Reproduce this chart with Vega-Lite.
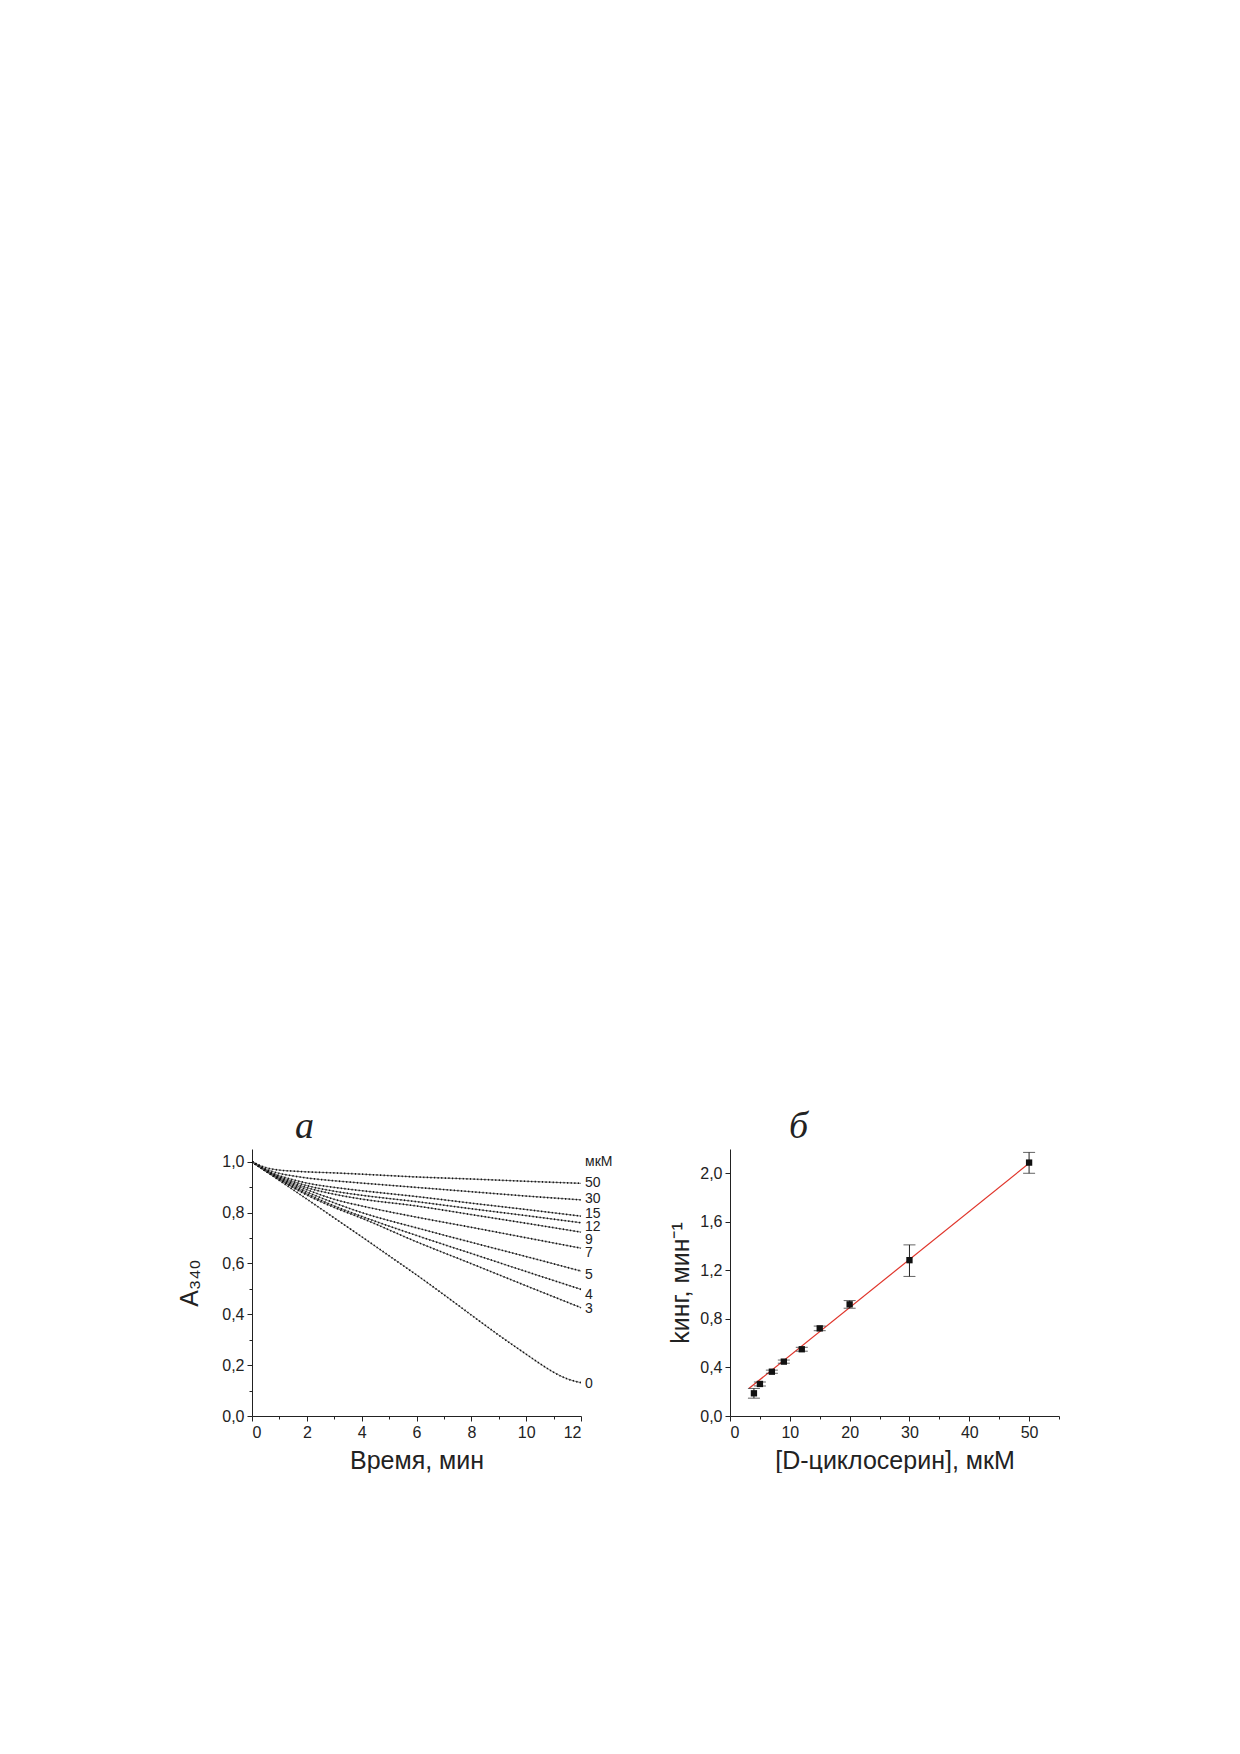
{
  "$schema": "https://vega.github.io/schema/vega-lite/v6.json",
  "background": "white",
  "padding": {"left": 177, "top": 1108, "right": 0, "bottom": 0},
  "spacing": 55,
  "config": {
    "font": "Liberation Sans",
    "view": {"stroke": null},
    "axis": {
      "grid": false,
      "domainColor": "#222",
      "tickColor": "#222",
      "labelColor": "#222",
      "titleColor": "#222",
      "labelFont": "Liberation Sans",
      "titleFont": "Liberation Sans",
      "labelFontSize": 16,
      "titleFontSize": 25,
      "titleFontWeight": "normal",
      "domainWidth": 1,
      "tickWidth": 1,
      "labelPadding": 3
    },
    "title": {"font": "Liberation Serif", "fontStyle": "italic", "fontSize": 38, "fontWeight": "normal", "color": "#222"}
  },
  "datasets": {
    "curves": [
      {"conc": "50", "t": 0, "A": 1.000}, {"conc": "50", "t": 0.5, "A": 0.977}, {"conc": "50", "t": 1, "A": 0.967}, {"conc": "50", "t": 1.5, "A": 0.963}, {"conc": "50", "t": 2, "A": 0.960}, {"conc": "50", "t": 3, "A": 0.956}, {"conc": "50", "t": 4, "A": 0.951}, {"conc": "50", "t": 6, "A": 0.940}, {"conc": "50", "t": 8, "A": 0.932}, {"conc": "50", "t": 10, "A": 0.923}, {"conc": "50", "t": 12, "A": 0.915},
      {"conc": "30", "t": 0, "A": 1.000}, {"conc": "30", "t": 0.5, "A": 0.971}, {"conc": "30", "t": 1, "A": 0.954}, {"conc": "30", "t": 1.5, "A": 0.944}, {"conc": "30", "t": 2, "A": 0.936}, {"conc": "30", "t": 3, "A": 0.925}, {"conc": "30", "t": 4, "A": 0.916}, {"conc": "30", "t": 6, "A": 0.899}, {"conc": "30", "t": 8, "A": 0.882}, {"conc": "30", "t": 10, "A": 0.865}, {"conc": "30", "t": 12, "A": 0.850},
      {"conc": "15", "t": 0, "A": 1.000}, {"conc": "15", "t": 0.5, "A": 0.967}, {"conc": "15", "t": 1, "A": 0.945}, {"conc": "15", "t": 1.5, "A": 0.929}, {"conc": "15", "t": 2, "A": 0.916}, {"conc": "15", "t": 3, "A": 0.899}, {"conc": "15", "t": 4, "A": 0.886}, {"conc": "15", "t": 6, "A": 0.863}, {"conc": "15", "t": 8, "A": 0.837}, {"conc": "15", "t": 10, "A": 0.812}, {"conc": "15", "t": 12, "A": 0.786},
      {"conc": "12", "t": 0, "A": 1.000}, {"conc": "12", "t": 0.5, "A": 0.966}, {"conc": "12", "t": 1, "A": 0.941}, {"conc": "12", "t": 1.5, "A": 0.922}, {"conc": "12", "t": 2, "A": 0.906}, {"conc": "12", "t": 3, "A": 0.884}, {"conc": "12", "t": 4, "A": 0.868}, {"conc": "12", "t": 6, "A": 0.843}, {"conc": "12", "t": 8, "A": 0.815}, {"conc": "12", "t": 10, "A": 0.788}, {"conc": "12", "t": 12, "A": 0.760},
      {"conc": "9", "t": 0, "A": 1.000}, {"conc": "9", "t": 0.5, "A": 0.965}, {"conc": "9", "t": 1, "A": 0.938}, {"conc": "9", "t": 1.5, "A": 0.916}, {"conc": "9", "t": 2, "A": 0.898}, {"conc": "9", "t": 3, "A": 0.872}, {"conc": "9", "t": 4, "A": 0.853}, {"conc": "9", "t": 6, "A": 0.826}, {"conc": "9", "t": 8, "A": 0.792}, {"conc": "9", "t": 10, "A": 0.758}, {"conc": "9", "t": 12, "A": 0.723},
      {"conc": "7", "t": 0, "A": 1.000}, {"conc": "7", "t": 0.5, "A": 0.964}, {"conc": "7", "t": 1, "A": 0.935}, {"conc": "7", "t": 1.5, "A": 0.911}, {"conc": "7", "t": 2, "A": 0.890}, {"conc": "7", "t": 3, "A": 0.852}, {"conc": "7", "t": 4, "A": 0.826}, {"conc": "7", "t": 6, "A": 0.782}, {"conc": "7", "t": 8, "A": 0.742}, {"conc": "7", "t": 10, "A": 0.701}, {"conc": "7", "t": 12, "A": 0.660},
      {"conc": "5", "t": 0, "A": 1.000}, {"conc": "5", "t": 0.5, "A": 0.964}, {"conc": "5", "t": 1, "A": 0.933}, {"conc": "5", "t": 1.5, "A": 0.906}, {"conc": "5", "t": 2, "A": 0.881}, {"conc": "5", "t": 3, "A": 0.838}, {"conc": "5", "t": 4, "A": 0.800}, {"conc": "5", "t": 6, "A": 0.740}, {"conc": "5", "t": 8, "A": 0.683}, {"conc": "5", "t": 10, "A": 0.627}, {"conc": "5", "t": 12, "A": 0.570},
      {"conc": "4", "t": 0, "A": 1.000}, {"conc": "4", "t": 0.5, "A": 0.963}, {"conc": "4", "t": 1, "A": 0.930}, {"conc": "4", "t": 1.5, "A": 0.901}, {"conc": "4", "t": 2, "A": 0.874}, {"conc": "4", "t": 3, "A": 0.826}, {"conc": "4", "t": 4, "A": 0.785}, {"conc": "4", "t": 6, "A": 0.710}, {"conc": "4", "t": 8, "A": 0.639}, {"conc": "4", "t": 10, "A": 0.568}, {"conc": "4", "t": 12, "A": 0.498},
      {"conc": "3", "t": 0, "A": 1.000}, {"conc": "3", "t": 0.5, "A": 0.963}, {"conc": "3", "t": 1, "A": 0.929}, {"conc": "3", "t": 1.5, "A": 0.898}, {"conc": "3", "t": 2, "A": 0.869}, {"conc": "3", "t": 3, "A": 0.820}, {"conc": "3", "t": 4, "A": 0.778}, {"conc": "3", "t": 6, "A": 0.685}, {"conc": "3", "t": 8, "A": 0.599}, {"conc": "3", "t": 10, "A": 0.512}, {"conc": "3", "t": 12, "A": 0.426},
      {"conc": "0", "t": 0, "A": 1.000}, {"conc": "0", "t": 1, "A": 0.926}, {"conc": "0", "t": 2, "A": 0.853}, {"conc": "0", "t": 3, "A": 0.779}, {"conc": "0", "t": 4, "A": 0.705}, {"conc": "0", "t": 5, "A": 0.630}, {"conc": "0", "t": 6, "A": 0.555}, {"conc": "0", "t": 7, "A": 0.477}, {"conc": "0", "t": 8, "A": 0.397}, {"conc": "0", "t": 9, "A": 0.318}, {"conc": "0", "t": 10, "A": 0.243}, {"conc": "0", "t": 10.5, "A": 0.206}, {"conc": "0", "t": 11, "A": 0.172}, {"conc": "0", "t": 11.5, "A": 0.146}, {"conc": "0", "t": 12, "A": 0.131}
    ],
    "labels": [
      {"label": "мкМ", "t": 12, "A": 1.0},
      {"label": "50", "t": 12, "A": 0.915},
      {"label": "30", "t": 12, "A": 0.855},
      {"label": "15", "t": 12, "A": 0.796},
      {"label": "12", "t": 12, "A": 0.743},
      {"label": "9", "t": 12, "A": 0.693},
      {"label": "7", "t": 12, "A": 0.640},
      {"label": "5", "t": 12, "A": 0.553},
      {"label": "4", "t": 12, "A": 0.475},
      {"label": "3", "t": 12, "A": 0.422},
      {"label": "0", "t": 12, "A": 0.125}
    ],
    "kin": [
      {"x": 4, "y": 0.187, "lo": 0.147, "hi": 0.227},
      {"x": 5, "y": 0.264, "lo": 0.248, "hi": 0.280},
      {"x": 7, "y": 0.365, "lo": 0.352, "hi": 0.378},
      {"x": 9, "y": 0.448, "lo": 0.435, "hi": 0.461},
      {"x": 12, "y": 0.550, "lo": 0.534, "hi": 0.566},
      {"x": 15, "y": 0.722, "lo": 0.703, "hi": 0.741},
      {"x": 20, "y": 0.920, "lo": 0.888, "hi": 0.951},
      {"x": 30, "y": 1.284, "lo": 1.150, "hi": 1.410},
      {"x": 50, "y": 2.088, "lo": 2.000, "hi": 2.172}
    ],
    "fit": [
      {"x": 3.2, "y": 0.228},
      {"x": 50, "y": 2.082}
    ]
  },
  "hconcat": [
    {
      "width": 329,
      "height": 267,
      "title": {"text": "a", "anchor": "start", "frame": "group", "dx": 43, "offset": 3},
      "encoding": {
        "x": {
          "field": "t", "type": "quantitative",
          "scale": {"domain": [0, 12], "nice": false, "zero": false},
          "axis": {
            "title": "Время, мин",
            "values": [0, 1, 2, 3, 4, 5, 6, 7, 8, 9, 10, 11, 12],
            "labelExpr": "datum.value % 2 == 0 ? datum.label : ''",
            "tickSize": {"condition": {"test": "datum.value % 2 == 0", "value": 5}, "value": 3},
            "titlePadding": 8
          }
        },
        "y": {
          "field": "A", "type": "quantitative",
          "scale": {"domain": [0, 1.05], "nice": false, "zero": false},
          "axis": {
            "title": "A₃₄₀",
            "values": [0, 0.1, 0.2, 0.3, 0.4, 0.5, 0.6, 0.7, 0.8, 0.9, 1.0],
            "labelExpr": "round(datum.value * 10) % 2 == 0 ? replace(format(datum.value, '.1f'), '.', ',') : ''",
            "tickSize": {"condition": {"test": "round(datum.value * 10) % 2 == 0", "value": 5}, "value": 3},
            "titlePadding": 19
          }
        }
      },
      "layer": [
        {
          "data": {"name": "curves"},
          "mark": {"type": "line", "color": "#555555", "strokeWidth": 0.8, "interpolate": "monotone"},
          "encoding": {"detail": {"field": "conc"}}
        },
        {
          "data": {"name": "curves"},
          "mark": {"type": "line", "color": "#111111", "strokeWidth": 1.7, "strokeDash": [1.2, 2.4], "interpolate": "monotone"},
          "encoding": {"detail": {"field": "conc"}}
        },
        {
          "data": {"name": "labels"},
          "mark": {"type": "text", "align": "left", "baseline": "middle", "dx": 4, "fontSize": 14, "color": "#222222", "font": "Liberation Sans"},
          "encoding": {"text": {"field": "label"}}
        }
      ]
    },
    {
      "width": 329,
      "height": 267,
      "title": {"text": "б", "anchor": "start", "frame": "group", "dx": 59, "offset": 3},
      "encoding": {
        "x": {
          "field": "x", "type": "quantitative",
          "scale": {"domain": [0, 55], "nice": false},
          "axis": {
            "title": "[D-циклосерин], мкМ",
            "values": [0, 5, 10, 15, 20, 25, 30, 35, 40, 45, 50, 55],
            "labelExpr": "datum.value % 10 == 0 ? datum.label : ''",
            "tickSize": {"condition": {"test": "datum.value % 10 == 0", "value": 5}, "value": 3},
            "titlePadding": 8
          }
        }
      },
      "layer": [
        {
          "data": {"name": "fit"},
          "mark": {"type": "line", "color": "#e0352b", "strokeWidth": 1.2},
          "encoding": {
            "y": {
              "field": "y", "type": "quantitative",
              "scale": {"domain": [0, 2.2], "nice": false},
              "axis": {
                "title": "kинг, мин⁻¹",
                "values": [0, 0.2, 0.4, 0.6, 0.8, 1.0, 1.2, 1.4, 1.6, 1.8, 2.0, 2.2],
                "labelExpr": "round(datum.value * 10) % 4 == 0 ? replace(format(datum.value, '.1f'), '.', ',') : ''",
                "tickSize": {"condition": {"test": "round(datum.value * 10) % 4 == 0", "value": 5}, "value": 3},
                "titlePadding": 6
              }
            }
          }
        },
        {
          "data": {"name": "kin"},
          "mark": {"type": "rule", "color": "#222222", "strokeWidth": 1},
          "encoding": {
            "y": {"field": "lo", "type": "quantitative", "title": "kинг, мин⁻¹"},
            "y2": {"field": "hi"}
          }
        },
        {
          "data": {"name": "kin"},
          "mark": {"type": "tick", "orient": "horizontal", "size": 12, "thickness": 1, "color": "#222222"},
          "encoding": {"y": {"field": "lo", "type": "quantitative", "title": "kинг, мин⁻¹"}}
        },
        {
          "data": {"name": "kin"},
          "mark": {"type": "tick", "orient": "horizontal", "size": 12, "thickness": 1, "color": "#222222"},
          "encoding": {"y": {"field": "hi", "type": "quantitative", "title": "kинг, мин⁻¹"}}
        },
        {
          "data": {"name": "kin"},
          "mark": {"type": "square", "filled": true, "size": 40, "color": "#111111", "opacity": 1},
          "encoding": {"y": {"field": "y", "type": "quantitative", "title": "kинг, мин⁻¹"}}
        }
      ]
    }
  ]
}
